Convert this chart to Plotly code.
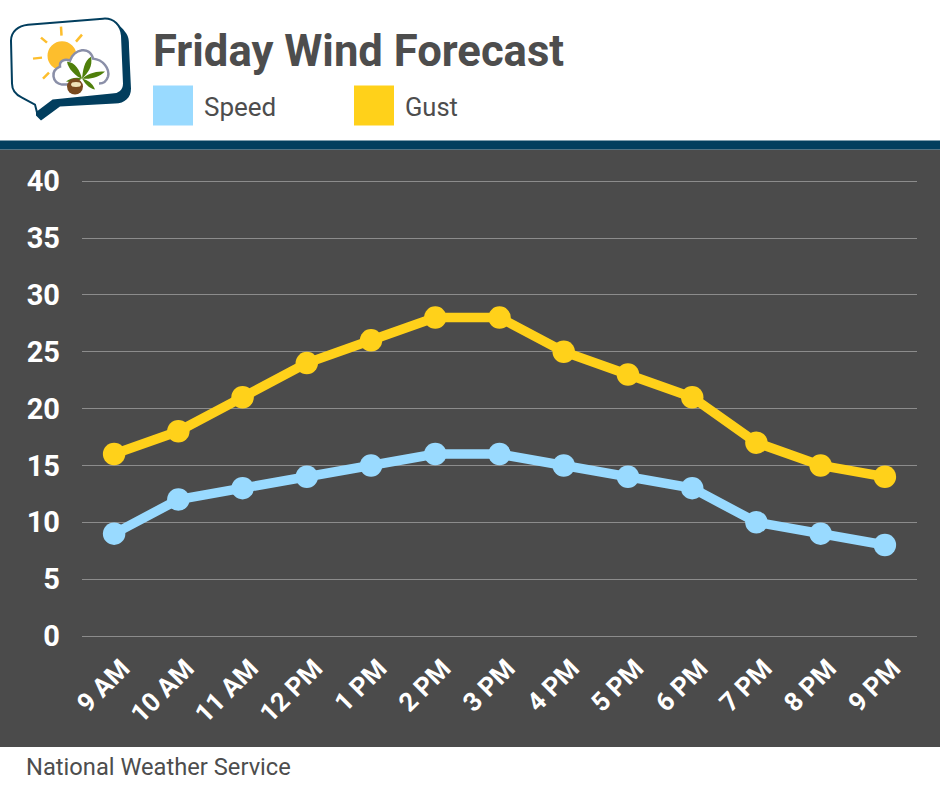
import re
import plotly.graph_objects as go

hours = ["9 AM", "10 AM", "11 AM", "12 PM", "1 PM", "2 PM", "3 PM", "4 PM", "5 PM", "6 PM", "7 PM", "8 PM", "9 PM"]
speed = [9, 12, 13, 14, 15, 16, 16, 15, 14, 13, 10, 9, 8]
gust = [16, 18, 21, 24, 26, 28, 28, 25, 23, 21, 17, 15, 14]
y_ticks = [0, 5, 10, 15, 20, 25, 30, 35, 40]

W, H = 940, 788
L, R, T, B = 82, 917, 179.5, 636
BLUE, GOLD, NAVY, DARK, INK = "#99DAFF", "#FFD11A", "#023E5E", "#4B4B4B", "#4D4D4D"
FONT = "Roboto, sans-serif"


def fx(v):
    return (v - L) / (R - L)


def fy(v):
    return (B - v) / (B - T)


def px(path):
    """Convert an SVG path written in page pixels into paper coordinates."""
    out, is_x = [], True
    for tok in re.findall(r"[A-Za-z]|-?[\d.]+", path):
        if tok.isalpha():
            out.append(tok)
            is_x = True
        else:
            v = float(tok)
            out.append(f"{fx(v):.5f}" if is_x else f"{fy(v):.5f}")
            is_x = not is_x
    return " ".join(out)


def shape(path, fill=None, line=None, width=0, layer="above"):
    return dict(type="path", xref="paper", yref="paper", path=px(path), fillcolor=fill or "rgba(0,0,0,0)",
                line=dict(color=line or "rgba(0,0,0,0)", width=width), layer=layer)


def rect(x0, y0, x1, y1, color, layer="below"):
    return dict(type="rect", xref="paper", yref="paper", x0=fx(x0), x1=fx(x1), y0=fy(y1), y1=fy(y0),
                fillcolor=color, line=dict(width=0), layer=layer)


def circle(cx, cy, rx, ry, fill, line=None, width=0):
    return dict(type="circle", xref="paper", yref="paper", x0=fx(cx - rx), x1=fx(cx + rx),
                y0=fy(cy + ry), y1=fy(cy - ry), fillcolor=fill,
                line=dict(color=line or fill, width=width), layer="above")


shapes = [
    rect(0, 149, W, 747, DARK),
    rect(0, 140, W, 149, NAVY),
    rect(153, 85, 193, 125, BLUE),
    rect(354, 85, 394, 125, GOLD),
    # logo: bubble shadow and bubble
    shape("M 100 20 C 112 19 120 24 125 31 C 129 36 129 40 129 46 L 131 88 C 131 97 125 103 115 103 L 60 106 L 41 120 L 36 115 L 36 104 Z", NAVY),
    shape("M 28 24 L 103 18 C 114 17 121 25 122 35 L 124 83 C 124 90 119 94 112 94 L 53 100 L 37 112 L 35 104 L 22 97 C 15 94 12 90 12 83 L 11 40 C 11 31 18 25 28 24 Z", "#FFFFFF", NAVY, 2),
    # sun and rays
    circle(62, 55, 14.5, 14.5, "#FDBE2D"),
    shape("M 61 26 L 61.5 35", line="#FDBE2D", width=2.5),
    shape("M 82 34 L 76 41", line="#FDBE2D", width=2.5),
    shape("M 41 37 L 47 42", line="#FDBE2D", width=2.5),
    shape("M 33 58 L 42 57", line="#FDBE2D", width=2.5),
    shape("M 43 78 L 49 72", line="#FDBE2D", width=2.5),
    # cloud
    shape("M 72 84 L 62 84 C 52 82 50 70 60 66 C 59 60 65 58 70 60 C 74 48 90 45 93 58 C 103 59 110 68 108 76 C 106 82 103 83 99 83",
          "#FFFFFF", "#8A8FA8", 2.5),
    # leaves
    shape("M 82 78 C 76 76 68 68 67 61 C 75 61 80 70 82 78 Z", "#4F7F0A"),
    shape("M 82 78 C 83 70 84 60 91 56 C 93 66 88 72 82 78 Z", "#4F7F0A"),
    shape("M 82 78 C 88 73 96 70 105 71 C 99 77 90 79 82 78 Z", "#4F7F0A"),
    shape("M 82 78 C 88 80 92 82 95 89 C 89 88 85 83 82 78 Z", "#4F7F0A"),
    shape("M 82 78 C 76 76 70 78 66 81 C 72 82 78 81 82 78 Z", "#4F7F0A"),
    circle(75, 86, 8, 8, "#7A4A1E"),
    circle(76, 84, 5, 2.5, "#F1E3B8"),
]


def note(text, x, y, size, color=INK, bold=False):
    return dict(text=f"<b>{text}</b>" if bold else text, xref="paper", yref="paper", x=fx(x), y=fy(y),
                xanchor="left", yanchor="middle", showarrow=False, borderpad=0,
                font=dict(size=size, family=FONT, color=color))


annotations = [
    note("Friday Wind Forecast", 152, 51, 43.6, bold=True),
    note("Speed", 203, 106, 26),
    note("Gust", 404, 106, 25.5),
    note("National Weather Service", 25, 767, 23.7),
]

fig = go.Figure()
for name, vals, color in [("Speed", speed, BLUE), ("Gust", gust, GOLD)]:
    fig.add_trace(go.Scatter(x=hours, y=vals, name=name, mode="lines+markers", cliponaxis=False,
                             line=dict(color=color, width=9.5), marker=dict(color=color, size=22.5)))

fig.update_layout(
    width=W, height=H, showlegend=False, paper_bgcolor="#FFFFFF", plot_bgcolor="rgba(0,0,0,0)",
    margin=dict(l=L, r=W - R, t=T, b=H - B), shapes=shapes, annotations=annotations,
    xaxis=dict(type="category", categoryorder="array", categoryarray=hours, range=[-0.5, 12.5], showgrid=False,
               zeroline=False, showline=False, tickangle=-45, ticks="", ticklabelstandoff=11, ticklabelshift=8,
               tickfont=dict(size=26, family=FONT, color="#FFFFFF", weight=700)),
    yaxis=dict(range=[0, 40.1], tickvals=y_ticks, showgrid=True, gridcolor="#8C8C8C", gridwidth=1, zeroline=True,
               zerolinecolor="#8C8C8C", zerolinewidth=1, showline=False, ticks="", ticklabelstandoff=21,
               tickfont=dict(size=29, family=FONT, color="#FFFFFF", weight=700)),
)
fig.write_html("out.html", config=dict(displayModeBar=False), post_script="document.body.style.margin='0';")
